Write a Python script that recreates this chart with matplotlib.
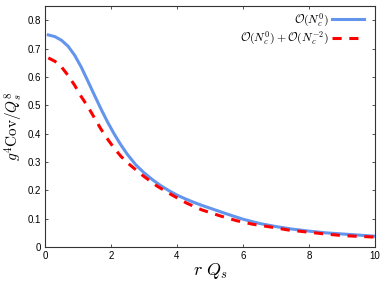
import matplotlib
matplotlib.use('Agg')
import matplotlib.pyplot as plt

plt.rcParams['font.family'] = ['Liberation Sans', 'DejaVu Sans']
plt.rcParams['mathtext.fontset'] = 'cm'

# r Q_s values and covariance
r_lo = [0.1, 0.3, 0.5, 0.7, 0.9, 1.1, 1.3, 1.5, 1.7, 1.9, 2.1, 2.3, 2.5, 2.75, 3.0,
        3.25, 3.5, 3.75, 4.0, 4.25, 4.5, 4.75, 5.0, 5.5, 6.0, 6.5, 7.0, 7.5, 8.0,
        8.5, 9.0, 9.5, 10.0]
cov_lo = [0.748, 0.742, 0.729, 0.708, 0.676, 0.634, 0.585, 0.535, 0.486, 0.44, 0.398,
          0.36, 0.326, 0.29, 0.262, 0.238, 0.217, 0.199, 0.183, 0.17, 0.158, 0.147,
          0.137, 0.117, 0.098, 0.083, 0.072, 0.063, 0.056, 0.05, 0.046, 0.042, 0.038]

r_nlo = [0.1, 0.3, 0.5, 0.7, 0.9, 1.1, 1.3, 1.5, 1.7, 1.9, 2.1, 2.3, 2.52, 2.93, 3.38,
         3.84, 4.29, 4.75, 5.3, 5.8, 6.31, 6.87, 7.37, 7.93, 8.48, 9.04, 9.6, 10.0]
cov_nlo = [0.667, 0.655, 0.635, 0.605, 0.57, 0.53, 0.495, 0.455, 0.415, 0.38, 0.348,
           0.32, 0.295, 0.255, 0.216, 0.184, 0.155, 0.131, 0.11, 0.093, 0.08, 0.07,
           0.06, 0.053, 0.046, 0.04, 0.037, 0.035]

fig = plt.figure(figsize=(3.9, 2.93), dpi=100)
ax = fig.add_axes([0.1154, 0.157, 0.846, 0.8225])

ax.plot(r_lo, cov_lo, color='#6495ED', lw=2.2, label=r'$\mathcal{O}(N_c^0)$')
ax.plot(r_nlo, cov_nlo, color='#FF0000', lw=2.2, ls=(0, (3, 2.5)),
        label=r'$\mathcal{O}(N_c^0)+\mathcal{O}(N_c^{-2})$')

ax.set_xlim(0, 10)
ax.set_ylim(0, 0.85)
ax.set_xticks([0, 2, 4, 6, 8, 10])
ax.set_yticks([0, 0.1, 0.2, 0.3, 0.4, 0.5, 0.6, 0.7, 0.8])
ax.set_yticklabels(['0', '0.1', '0.2', '0.3', '0.4', '0.5', '0.6', '0.7', '0.8'])
ax.tick_params(direction='in', top=True, right=True, labelsize=7, length=2.5,
               width=0.6, colors='#333333', labelcolor='black', pad=3)
for s in ax.spines.values():
    s.set_color('#333333')
    s.set_linewidth(0.8)

ax.set_xlabel(r'$r\ Q_s$', fontsize=13, labelpad=0)
ax.set_ylabel(r'$g^4\mathrm{Cov}/Q_s^8$', fontsize=11, labelpad=2)

ax.legend(loc='upper right', bbox_to_anchor=(0.985, 1.0), frameon=False,
          markerfirst=False, fontsize=8.5, handlelength=2.7, handletextpad=0.3,
          borderaxespad=0.1, labelspacing=0.1)

fig.savefig('out.png', dpi=100)
